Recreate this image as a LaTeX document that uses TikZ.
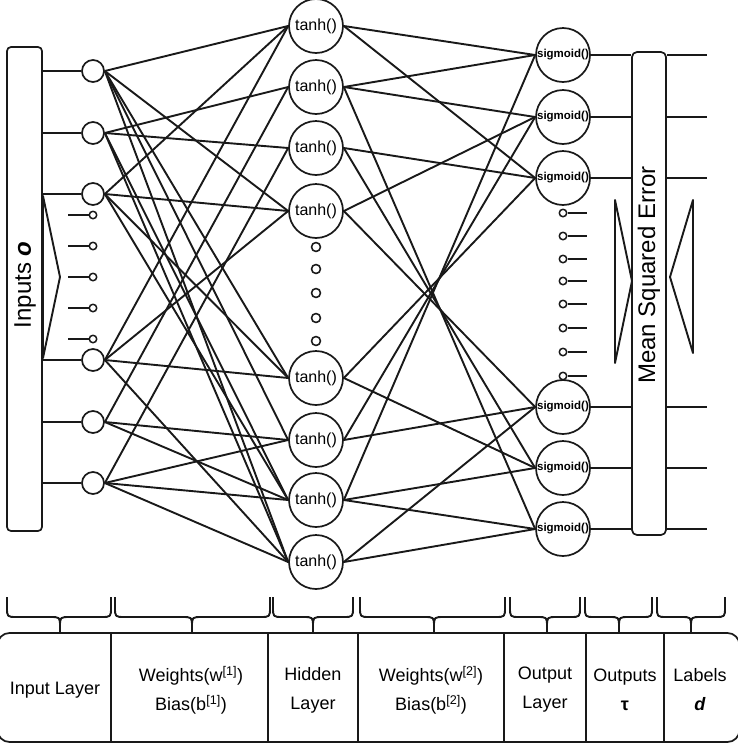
\documentclass[tikz,border=0pt]{standalone}
\usepackage{fontspec}
\setmainfont{Liberation Sans}
\newcommand\mybrace[3]{%
  \draw[ln] (#1,597) -- (#1,607) .. controls (#1,617) .. (#1+10,617) -- (#2-10,617) .. controls (#2,617) .. (#2,627) -- (#2,633);
  \draw[ln] (#2,627) .. controls (#2,617) .. (#2+10,617) -- (#3-10,617) .. controls (#3,617) .. (#3,607) -- (#3,597);}
\begin{document}
\begin{tikzpicture}[x=1pt,y=-1pt,line join=round,
  ln/.style={draw=black!90,line width=1.9pt},
  boxst/.style={draw=black!90,line width=1.7pt,rounded corners=4pt,fill=white,inner sep=0pt},
  inc/.style={circle,draw=black!90,line width=1.7pt,fill=white,minimum size=22pt,inner sep=0pt},
  hid/.style={circle,draw=black!90,line width=1.7pt,fill=white,minimum size=54pt,inner sep=0pt,font=\fontsize{16}{16}\selectfont},
  outc/.style={circle,draw=black!90,line width=1.7pt,fill=white,minimum size=54pt,inner sep=0pt,font=\fontsize{11.5}{12}\selectfont\bfseries},
  pinc/.style={circle,draw=black!90,line width=1.5pt,fill=white,minimum size=7.5pt,inner sep=0pt},
  hdot/.style={circle,draw=black!90,line width=1.6pt,fill=white,minimum size=9pt,inner sep=0pt},
  lbl/.style={align=center,font=\fontsize{18}{29}\selectfont,inner sep=0pt}]
\useasboundingbox (0,0) rectangle (737,745);

% ---------- nodes ----------
\node[boxst,minimum width=35pt,minimum height=484pt] (inbox) at (24.5,289) {};
\node[rotate=90,font=\fontsize{24}{24}\selectfont,inner sep=0pt] (intext) at (25,285) {Inputs \textbf{\textit{o}}};

\foreach \n/\y in {1/71,2/133,3/194,4/360,5/422,6/483}
  \node[inc] (i\n) at (93,\y) {};

\foreach \n/\y in {1/26,2/87,3/148,4/211,5/378,6/440,7/500,8/562}
  \node[hid] (h\n) at (316,\y) {tanh()};

\foreach \n/\y in {1/55,2/117,3/178,4/407,5/468,6/529}
  \node[outc] (o\n) at (563,\y) {sigmoid()};

\node[boxst,rounded corners=5pt,minimum width=34pt,minimum height=483pt] (mse) at (649,293.5) {};
\node[rotate=90,font=\fontsize{24}{24}\selectfont,inner sep=0pt] (msetext) at (649,275) {Mean Squared Error};

% ---------- input box links and chevron ----------
\foreach \n in {1,...,6}
  \draw[ln] (inbox.east |- i\n) -- (i\n.west);
\draw[ln] (43,196) -- (60,277) -- (43,358) -- cycle;

% input pins
\foreach \n/\y in {1/215,2/246,3/277,4/308,5/339}{
  \coordinate (ip\n) at (68,\y);
  \node[pinc] (ipc\n) at (93,\y) {};
  \draw[ln] (ip\n) -- (ipc\n.west);}

% hidden dots
\foreach \n/\y in {1/247,2/269,3/293,4/318,5/341}
  \node[hdot] (hd\n) at (316,\y) {};

% output pins
\foreach \n/\y in {1/213,2/236,3/259,4/281,5/304,6/328,7/352,8/376}{
  \coordinate (op\n) at (587,\y);
  \node[pinc] (opc\n) at (563,\y) {};
  \draw[ln] (opc\n.east) -- (op\n);}

% ---------- input -> hidden ----------
\foreach \a/\b in {1/1,1/4,1/5,1/6,1/8,
                   2/2,2/3,2/7,2/8,
                   3/1,3/4,3/5,3/7,
                   4/1,4/4,4/5,4/8,
                   5/2,5/6,5/7,
                   6/3,6/6,6/7,6/8}
  \draw[ln] (i\a.east) -- (h\b.west);

% ---------- hidden -> output ----------
\foreach \a/\b in {1/1,1/3,2/1,2/2,2/6,3/3,3/5,4/2,4/4,
                   5/3,5/5,6/2,6/4,7/1,7/5,7/6,8/4,8/6}
  \draw[ln] (h\a.east) -- (o\b.west);

% ---------- outputs -> MSE -> labels ----------
\foreach \n/\y in {1/55,2/117,3/178,4/407,5/468,6/529}{
  \coordinate (lb\n) at (707,\y);
  \draw[ln] (o\n.east) -- (mse.west |- o\n);
  \draw[ln] (mse.east |- o\n) -- (lb\n);}
\draw[ln] (615,200) -- (632,281) -- (615,363) -- cycle;
\draw[ln] (693,200) -- (670,277) -- (693,353) -- cycle;

% ---------- braces ----------
\mybrace{7}{60}{111}
\mybrace{115}{192}{270}
\mybrace{273}{313}{353}
\mybrace{360}{434}{505}
\mybrace{510}{547}{580}
\mybrace{585}{619}{652}
\mybrace{657}{691}{725}

% ---------- bottom table ----------
\node[draw=black!90,line width=1.7pt,rounded corners=12pt,minimum width=742pt,minimum height=109pt,inner sep=0pt] (tbl) at (368.5,687.5) {};
\foreach \x in {111,268,358,504,586,664}
  \draw[ln] (\x,633) -- (\x,742);
\node[lbl] (c1) at (55,690) {Input Layer};
\node[lbl] (c2) at (191,690) {Weights(w\textsuperscript{[1]})\\Bias(b\textsuperscript{[1]})};
\node[lbl] (c3) at (313,690) {Hidden\\Layer};
\node[lbl] (c4) at (431,690) {Weights(w\textsuperscript{[2]})\\Bias(b\textsuperscript{[2]})};
\node[lbl] (c5) at (545,690) {Output\\Layer};
\node[lbl] (c6) at (625,690) {Outputs\\\textbf{τ}};
\node[lbl] (c7) at (700,690) {Labels\\\textbf{\textit{d}}};
\end{tikzpicture}
\end{document}
